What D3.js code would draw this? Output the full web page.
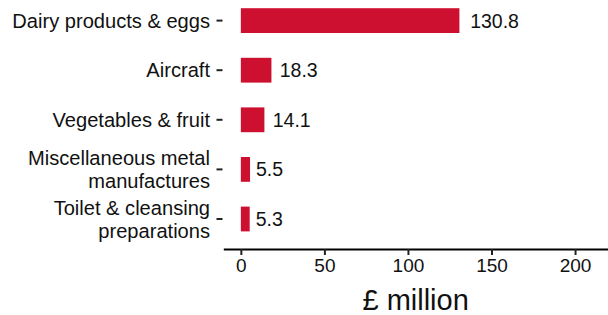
<!DOCTYPE html>
<html>
<head>
<meta charset="utf-8">
<script src="https://cdn.jsdelivr.net/npm/d3@7"></script>
<style>
  body { margin: 0; background: #fff; }
  text { font-family: "Liberation Sans", Arial, sans-serif; fill: #111; }
</style>
</head>
<body>
<div id="content"></div>
<script>
var categories = ["Dairy products & eggs", "Aircraft", "Vegetables & fruit",
                  "Miscellaneous metal\nmanufactures", "Toilet & cleansing\npreparations"];
var values = [130.8, 18.3, 14.1, 5.5, 5.3];
var xTicks = [0, 50, 100, 150, 200];
var xTitle = "£ million";

var width = 608, height = 315;
var axisY = 249, axisX = 222.5;

var svg = d3.select("#content")
            .append("svg")
            .attr("width", width)
            .attr("height", height);

var scaleX = d3.scaleLinear().domain([-10.5, 220.5]).range([223.3, 609.3]);
var scaleY = d3.scaleBand().domain(categories).range([-4.2, 243.8])
               .paddingInner(0.5).paddingOuter(0.25);

// bars
svg.append("g")
   .selectAll("rect")
   .data(values)
   .enter()
   .append("rect")
   .attr("x", scaleX(0))
   .attr("y", function(d, i) { return scaleY(categories[i]); })
   .attr("width", function(d) { return scaleX(d) - scaleX(0); })
   .attr("height", scaleY.bandwidth())
   .attr("fill", "#CE1030");

// value labels, pushed right by a share of their own width
svg.append("g")
   .selectAll("text")
   .data(values)
   .enter()
   .append("text")
   .attr("y", function(d, i) { return scaleY(categories[i]) + scaleY.bandwidth()/2; })
   .attr("dy", "0.36em")
   .style("font-size", "19.5px")
   .text(function(d) { return d.toFixed(1); })
   .attr("x", function(d) { return scaleX(d) + 0.22 * this.getComputedTextLength(); });

// x axis
var xAxis = d3.axisBottom(scaleX).tickValues(xTicks).tickSize(6).tickSizeOuter(0).tickPadding(4);
var gx = svg.append("g")
            .attr("transform", "translate(0," + axisY + ")")
            .call(xAxis);
gx.select(".domain").attr("stroke", "#000").attr("stroke-width", 2);
gx.selectAll(".tick line").attr("stroke", "#222").attr("stroke-width", 2);
gx.selectAll(".tick text").style("font-size", "19px").attr("fill", "#111").attr("font-family", null);

// y axis: ticks only, multi-line labels
var yAxis = d3.axisLeft(scaleY).tickSize(6).tickPadding(6.5);
var gy = svg.append("g")
            .attr("transform", "translate(" + axisX + ",0)")
            .call(yAxis);
gy.select(".domain").remove();
gy.selectAll(".tick line").attr("stroke", "#222").attr("stroke-width", 2);
gy.selectAll(".tick text")
  .style("font-size", "20.1px")
  .attr("fill", "#111")
  .attr("font-family", null)
  .each(function(d) {
    var lines = d.split("\n");
    var t = d3.select(this).text(null).attr("dy", null);
    var lh = 23.3;
    lines.forEach(function(l, k) {
      t.append("tspan")
       .attr("x", -12.5)
       .attr("y", (k - (lines.length - 1)/2) * lh)
       .attr("dy", "0.36em")
       .text(l);
    });
  });

// axis title
svg.append("text")
   .attr("x", (scaleX.range()[0] + 608) / 2)
   .attr("y", 310)
   .attr("text-anchor", "middle")
   .style("font-size", "29px")
   .text(xTitle);
</script>
</body>
</html>
